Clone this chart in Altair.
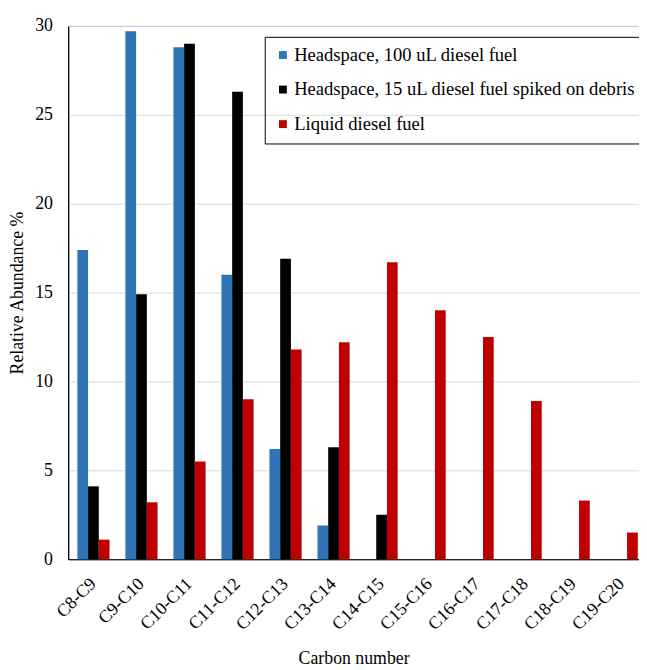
import altair as alt
import pandas as pd

categories = ["C8-C9", "C9-C10", "C10-C11", "C11-C12", "C12-C13", "C13-C14",
              "C14-C15", "C15-C16", "C16-C17", "C17-C18", "C18-C19", "C19-C20"]
series_names = ["Headspace, 100 uL diesel fuel",
                "Headspace, 15 uL diesel fuel spiked on debris",
                "Liquid diesel fuel"]
headspace_100 = [17.4, 29.7, 28.8, 16.0, 6.2, 1.9, 0, 0, 0, 0, 0, 0]
headspace_15 = [4.1, 14.9, 29.0, 26.3, 16.9, 6.3, 2.5, 0, 0, 0, 0, 0]
liquid = [1.1, 3.2, 5.5, 9.0, 11.8, 12.2, 16.7, 14.0, 12.5, 8.9, 3.3, 1.5]
colors = ["#2E75B6", "#000000", "#C00000"]
y_ticks = [0, 5, 10, 15, 20, 25, 30]

rows = []
for name, vals in zip(series_names, [headspace_100, headspace_15, liquid]):
    for c, v in zip(categories, vals):
        rows.append({"cat": c, "series": name, "value": v})
df = pd.DataFrame(rows)

FONT = "Liberation Serif"

chart = alt.Chart(df).mark_bar().encode(
    x=alt.X("cat:N", sort=categories,
            scale=alt.Scale(paddingInner=0.33, paddingOuter=0.19, range=[0, 586]),
            axis=alt.Axis(title="Carbon number", labelAngle=-45, labelAlign="right",
                          labelBaseline="middle", labelPadding=22, grid=False,
                          titleX=289, titleY=106, titleBaseline="alphabetic")),
    xOffset=alt.XOffset("series:N", sort=series_names),
    y=alt.Y("value:Q", scale=alt.Scale(domain=[0, 30]),
            axis=alt.Axis(values=y_ticks, title="Relative Abundance %", labelPadding=16,
                          grid=True, titleX=-51, titleBaseline="middle")),
    color=alt.Color("series:N",
                    scale=alt.Scale(domain=series_names, range=colors),
                    legend=alt.Legend(title=None, orient="none", legendX=199, legendY=11,
                                      strokeColor="black", padding=9,
                                      labelFont=FONT, labelFontSize=18.8, labelColor="black",
                                      symbolType="square", symbolSize=64,
                                      symbolStrokeWidth=0, rowPadding=15, labelLimit=0,
                                      labelOffset=2)),
).properties(
    width=578, height=540, autosize="none",
    padding={"left": 61, "top": 14, "right": 0, "bottom": 108},
).configure(font=FONT).configure_legend(
    labelFont=FONT, labelFontSize=18.8, labelColor="black",
).configure_axis(
    labelFont=FONT, labelFontSize=18, labelColor="black",
    titleFont=FONT, titleFontSize=18, titleFontWeight="normal", titleColor="black",
    domainColor="black", tickSize=0, gridColor="#d9d9d9",
).configure_view(stroke="black", strokeWidth=1)

chart.save("out.html", embed_options={"renderer": "svg", "actions": False})
